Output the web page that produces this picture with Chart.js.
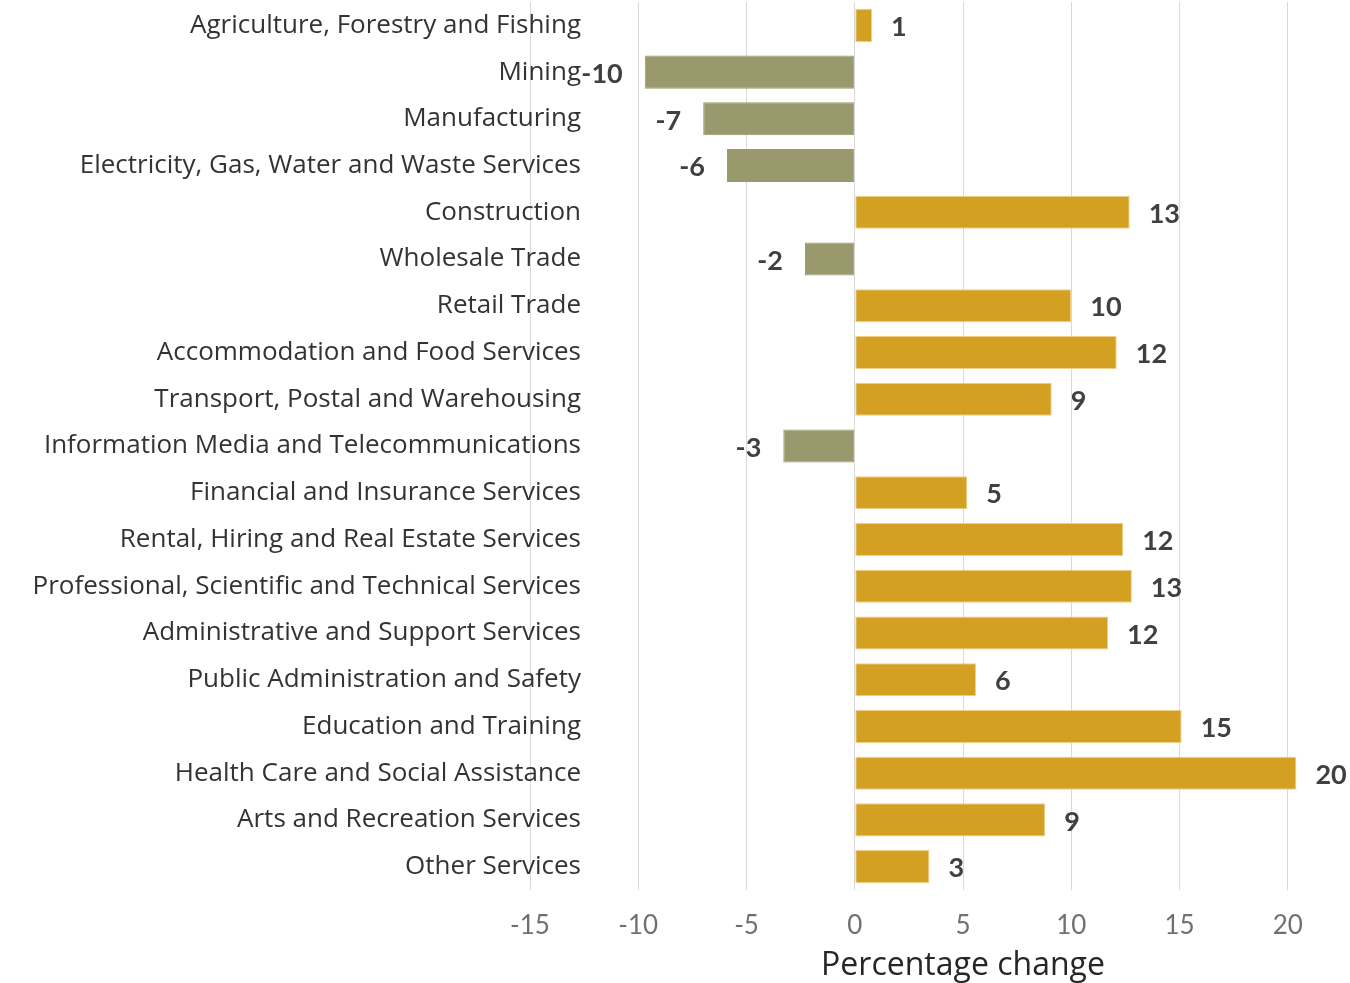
<!DOCTYPE html>
<html>
<head>
<meta charset="utf-8">
<script src="https://cdn.jsdelivr.net/npm/chart.js@4/dist/chart.umd.min.js"></script>
<style>
  html, body { margin: 0; padding: 0; overflow: hidden; background: #fff; }
  #wrap { width: 1419px; height: 983px; }
</style>
</head>
<body>
<div id="wrap"><canvas id="chart" width="1419" height="983"></canvas></div>
<script>
const industries = [
  'Agriculture, Forestry and Fishing',
  'Mining',
  'Manufacturing',
  'Electricity, Gas, Water and Waste Services',
  'Construction',
  'Wholesale Trade',
  'Retail Trade',
  'Accommodation and Food Services',
  'Transport, Postal and Warehousing',
  'Information Media and Telecommunications',
  'Financial and Insurance Services',
  'Rental, Hiring and Real Estate Services',
  'Professional, Scientific and Technical Services',
  'Administrative and Support Services',
  'Public Administration and Safety',
  'Education and Training',
  'Health Care and Social Assistance',
  'Arts and Recreation Services',
  'Other Services'
];
const pctChange = [0.8, -9.7, -7.0, -5.9, 12.7, -2.3, 10.0, 12.1, 9.1, -3.3,
                   5.2, 12.4, 12.8, 11.7, 5.6, 15.1, 20.4, 8.8, 3.45];
const xTicks = { min: -15, max: 25, step: 5 };

const GOLD = '#d4a021';
const OLIVE = '#99996d';
const FONT = 'Open Sans';

// value labels at the bar ends, like Excel "outside end"
const barLabels = {
  id: 'barLabels',
  afterDatasetsDraw(chart) {
    const ctx = chart.ctx;
    const meta = chart.getDatasetMeta(0);
    ctx.save();
    ctx.font = 'bold 27px Lato';
    ctx.fillStyle = '#404040';
    ctx.textBaseline = 'middle';
    meta.data.forEach((bar, i) => {
      const v = pctChange[i];
      const txt = String(Math.round(v));
      if (v >= 0) {
        ctx.textAlign = 'left';
        ctx.fillText(txt, bar.x + 19, bar.y + 2);
      } else {
        ctx.textAlign = 'right';
        ctx.fillText(txt, bar.x - 22, bar.y + 2);
      }
    });
    ctx.restore();
  }
};

new Chart(document.getElementById('chart').getContext('2d'), {
  type: 'bar',
  data: {
    labels: industries,
    datasets: [{
      data: pctChange,
      backgroundColor: pctChange.map(v => v >= 0 ? GOLD : OLIVE),
      borderColor: pctChange.map(v => v >= 0 ? '#efd08a' : OLIVE),
      borderWidth: 1,
      borderSkipped: false,
      barPercentage: 0.707,
      categoryPercentage: 1
    }]
  },
  options: {
    indexAxis: 'y',
    responsive: false,
    animation: false,
    layout: { padding: { top: 2, right: 4, bottom: 0, left: 0 } },
    plugins: {
      legend: { display: false },
      tooltip: { enabled: false }
    },
    scales: {
      x: {
        min: xTicks.min,
        max: xTicks.max,
        ticks: {
          stepSize: xTicks.step,
          padding: 23,
          color: '#707070',
          font: { family: 'Lato', size: 26, lineHeight: 1 },
          callback: (v) => v === xTicks.max ? '' : v
        },
        grid: { color: '#d9d9d9', lineWidth: 1, drawTicks: false },
        border: { display: false },
        title: {
          display: true,
          text: 'Percentage change',
          color: '#262626',
          font: { family: FONT, size: 32, lineHeight: 1 },
          padding: { top: -12, bottom: 1 }
        }
      },
      y: {
        ticks: {
          padding: -51,
          color: '#333333',
          font: { family: FONT, size: 26 }
        },
        grid: { display: false, drawTicks: false },
        border: { display: false },
        afterFit(scale) { scale.width = 530; },
        // let the long names run past the axis box, as in the original
        afterUpdate(scale) { scale._computeLabelArea = () => undefined; }
      }
    }
  },
  plugins: [barLabels]
});
</script>
</body>
</html>
